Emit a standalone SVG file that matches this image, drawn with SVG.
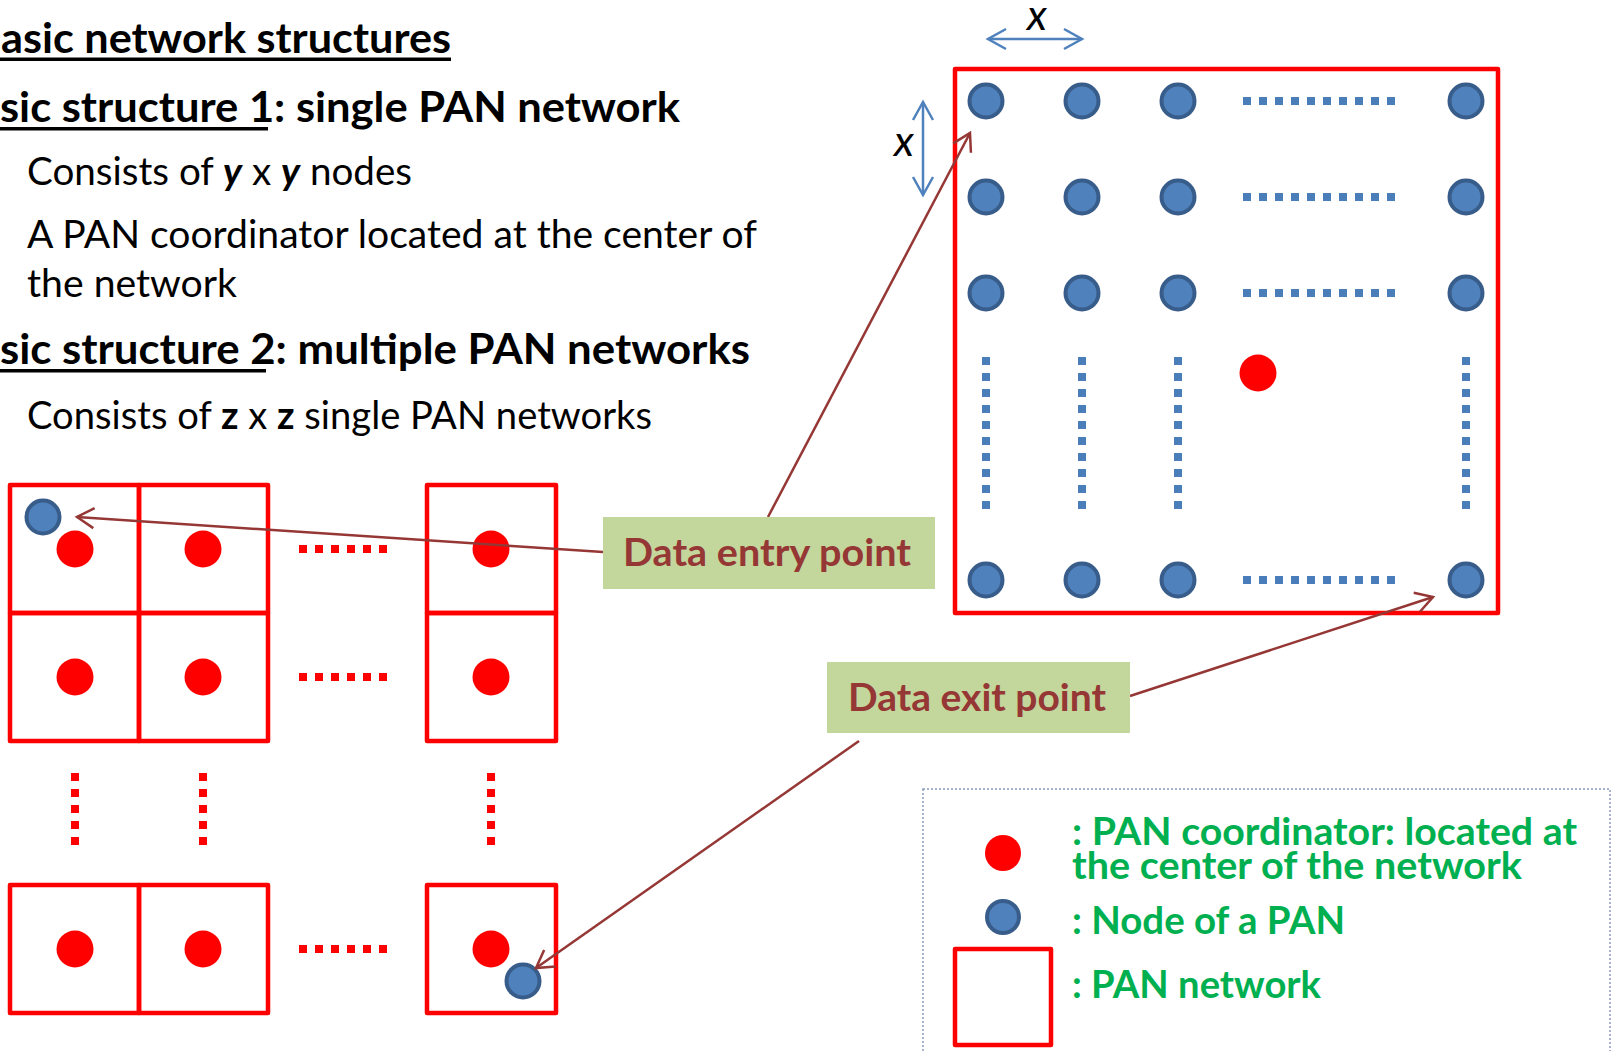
<svg xmlns="http://www.w3.org/2000/svg" width="1616" height="1051" viewBox="0 0 1616 1051">
<style>
.title{font-family:Lato,"Liberation Sans",sans-serif;font-weight:bold;font-size:42px;fill:#000}
.body{font-family:Lato,"Liberation Sans",sans-serif;font-size:38px;fill:#000}
.bi{font-weight:bold;font-style:italic}
.b{font-weight:bold}
.ul{fill:#000}
.cell{fill:none;stroke:#FF0000;stroke-width:4.5;stroke-linejoin:round}
.coord{fill:#FF0000}
.node{fill:#4F81BD;stroke:#385D8A;stroke-width:4}
.rdots{stroke:#FF0000;stroke-width:8;stroke-dasharray:8 8;fill:none}
.bdots{stroke:#4A7EBB;stroke-width:8;stroke-dasharray:8 8;fill:none}
.arrow{stroke:#953735;stroke-width:2.5;fill:none}
.dim{stroke:#4F81BD;stroke-width:2.5;fill:none}
.lbox{fill:#C3D69B}
.ltext{font-family:Lato,"Liberation Sans",sans-serif;font-weight:bold;font-size:38px;fill:#953735}
.legtext{font-family:Lato,"Liberation Sans",sans-serif;font-weight:bold;font-size:38px;fill:#00B050}
.xlab{font-family:Lato,"Liberation Sans",sans-serif;font-style:italic;font-size:43px;fill:#000}
</style>
<defs>
<marker id="ah" markerUnits="userSpaceOnUse" markerWidth="24" markerHeight="26" viewBox="-20 -13 24 26" refX="0" refY="0" orient="auto-start-reverse">
<path d="M-17,-10 L0,0 L-17,10" fill="none" stroke="#953735" stroke-width="2.5"/>
</marker>
<marker id="bh" markerUnits="userSpaceOnUse" markerWidth="24" markerHeight="26" viewBox="-20 -13 24 26" refX="0" refY="0" orient="auto-start-reverse">
<path d="M-18,-10 L0,0 L-18,10" fill="none" stroke="#4F81BD" stroke-width="2.5"/>
</marker>
</defs>
<rect width="1616" height="1051" fill="#FFFFFF"/>

<g id="text-block">
<text class="title" x="1" y="53" textLength="450" lengthAdjust="spacingAndGlyphs">asic network structures</text>
<rect class="ul" x="0" y="57.5" width="451" height="3.5"/>
<text class="title" x="0" y="122" textLength="680" lengthAdjust="spacingAndGlyphs">sic structure 1: single PAN network</text>
<rect class="ul" x="0" y="127" width="268" height="3.5"/>
<text class="body" x="27" y="185" textLength="385" lengthAdjust="spacingAndGlyphs">Consists of <tspan class="bi">y</tspan> x <tspan class="bi">y</tspan> nodes</text>
<text class="body" x="27" y="248" textLength="730" lengthAdjust="spacingAndGlyphs">A PAN coordinator located at the center of</text>
<text class="body" x="27" y="297" textLength="210" lengthAdjust="spacingAndGlyphs">the network</text>
<text class="title" x="0" y="364" textLength="750" lengthAdjust="spacingAndGlyphs">sic structure 2: multiple PAN networks</text>
<rect class="ul" x="0" y="369" width="266" height="3.5"/>
<text class="body" x="27" y="429" textLength="625" lengthAdjust="spacingAndGlyphs">Consists of <tspan class="b">z</tspan> x <tspan class="b">z</tspan> single PAN networks</text>
</g>

<g id="multi-pan-grid">
<rect class="cell" x="10" y="485" width="129" height="128"/>
<rect class="cell" x="139" y="485" width="129" height="128"/>
<rect class="cell" x="10" y="613" width="129" height="128"/>
<rect class="cell" x="139" y="613" width="129" height="128"/>
<rect class="cell" x="427" y="485" width="129" height="128"/>
<rect class="cell" x="427" y="613" width="129" height="128"/>
<rect class="cell" x="10" y="885" width="129" height="128"/>
<rect class="cell" x="139" y="885" width="129" height="128"/>
<rect class="cell" x="427" y="885" width="129" height="128"/>
<circle class="coord" cx="75" cy="549" r="18.5"/>
<circle class="coord" cx="203" cy="549" r="18.5"/>
<circle class="coord" cx="491" cy="549" r="18.5"/>
<circle class="coord" cx="75" cy="677" r="18.5"/>
<circle class="coord" cx="203" cy="677" r="18.5"/>
<circle class="coord" cx="491" cy="677" r="18.5"/>
<circle class="coord" cx="75" cy="949" r="18.5"/>
<circle class="coord" cx="203" cy="949" r="18.5"/>
<circle class="coord" cx="491" cy="949" r="18.5"/>
<path class="rdots" d="M299,549H387M299,677H387M299,949H387"/>
<path class="rdots" d="M75,773V845M203,773V845M491,773V845"/>
<circle id="entry-node-small" class="node" cx="43" cy="517" r="16.5"/>
<circle id="exit-node-small" class="node" cx="523" cy="981" r="16.5"/>
</g>

<g id="single-pan">
<rect class="cell" x="955" y="69" width="543" height="544"/>
<circle class="node" cx="986" cy="101" r="16.5"/>
<circle class="node" cx="1082" cy="101" r="16.5"/>
<circle class="node" cx="1178" cy="101" r="16.5"/>
<circle class="node" cx="1466" cy="101" r="16.5"/>
<circle class="node" cx="986" cy="197" r="16.5"/>
<circle class="node" cx="1082" cy="197" r="16.5"/>
<circle class="node" cx="1178" cy="197" r="16.5"/>
<circle class="node" cx="1466" cy="197" r="16.5"/>
<circle class="node" cx="986" cy="293" r="16.5"/>
<circle class="node" cx="1082" cy="293" r="16.5"/>
<circle class="node" cx="1178" cy="293" r="16.5"/>
<circle class="node" cx="1466" cy="293" r="16.5"/>
<circle class="node" cx="986" cy="580" r="16.5"/>
<circle class="node" cx="1082" cy="580" r="16.5"/>
<circle class="node" cx="1178" cy="580" r="16.5"/>
<circle class="node" cx="1466" cy="580" r="16.5"/>
<circle class="coord" cx="1258" cy="373" r="18.5"/>
<path class="bdots" d="M1243,101H1395M1243,197H1395M1243,293H1395M1243,580H1395"/>
<path class="bdots" d="M986,357V509M1082,357V509M1178,357V509M1466,357V509"/>
</g>

<g id="dimensions">
<line class="dim" x1="988" y1="39" x2="1082" y2="39" marker-start="url(#bh)" marker-end="url(#bh)"/>
<text class="xlab" x="1037" y="30" text-anchor="middle">x</text>
<line class="dim" x1="923" y1="102" x2="923" y2="195" marker-start="url(#bh)" marker-end="url(#bh)"/>
<text class="xlab" x="904" y="156" text-anchor="middle">x</text>
</g>

<g id="connectors">
<line class="arrow" x1="768" y1="517" x2="970" y2="133" marker-end="url(#ah)"/>
<line class="arrow" x1="603" y1="552" x2="77" y2="517" marker-end="url(#ah)"/>
<line class="arrow" x1="1130" y1="696" x2="1433" y2="597" marker-end="url(#ah)"/>
<line class="arrow" x1="859" y1="741" x2="536" y2="968" marker-end="url(#ah)"/>
</g>

<g id="label-entry">
<rect class="lbox" x="603" y="517" width="332" height="72"/>
<text class="ltext" x="623" y="566" textLength="288" lengthAdjust="spacingAndGlyphs">Data entry point</text>
</g>
<g id="label-exit">
<rect class="lbox" x="827" y="662" width="303" height="71"/>
<text class="ltext" x="848" y="711" textLength="258" lengthAdjust="spacingAndGlyphs">Data exit point</text>
</g>

<g id="legend">
<rect x="923" y="789" width="687" height="280" fill="none" stroke="#8A9BBF" stroke-width="1.5" stroke-dasharray="2 2"/>
<circle class="coord" cx="1003" cy="853" r="18"/>
<circle class="node" cx="1003" cy="917" r="16"/>
<rect class="cell" x="955" y="949" width="96" height="96"/>
<text class="legtext" x="1072" y="845" textLength="505" lengthAdjust="spacingAndGlyphs">: PAN coordinator: located at</text>
<text class="legtext" x="1072" y="879" textLength="450" lengthAdjust="spacingAndGlyphs">the center of the network</text>
<text class="legtext" x="1072" y="934" textLength="273" lengthAdjust="spacingAndGlyphs">: Node of a PAN</text>
<text class="legtext" x="1072" y="998" textLength="249" lengthAdjust="spacingAndGlyphs">: PAN network</text>
</g>
</svg>
